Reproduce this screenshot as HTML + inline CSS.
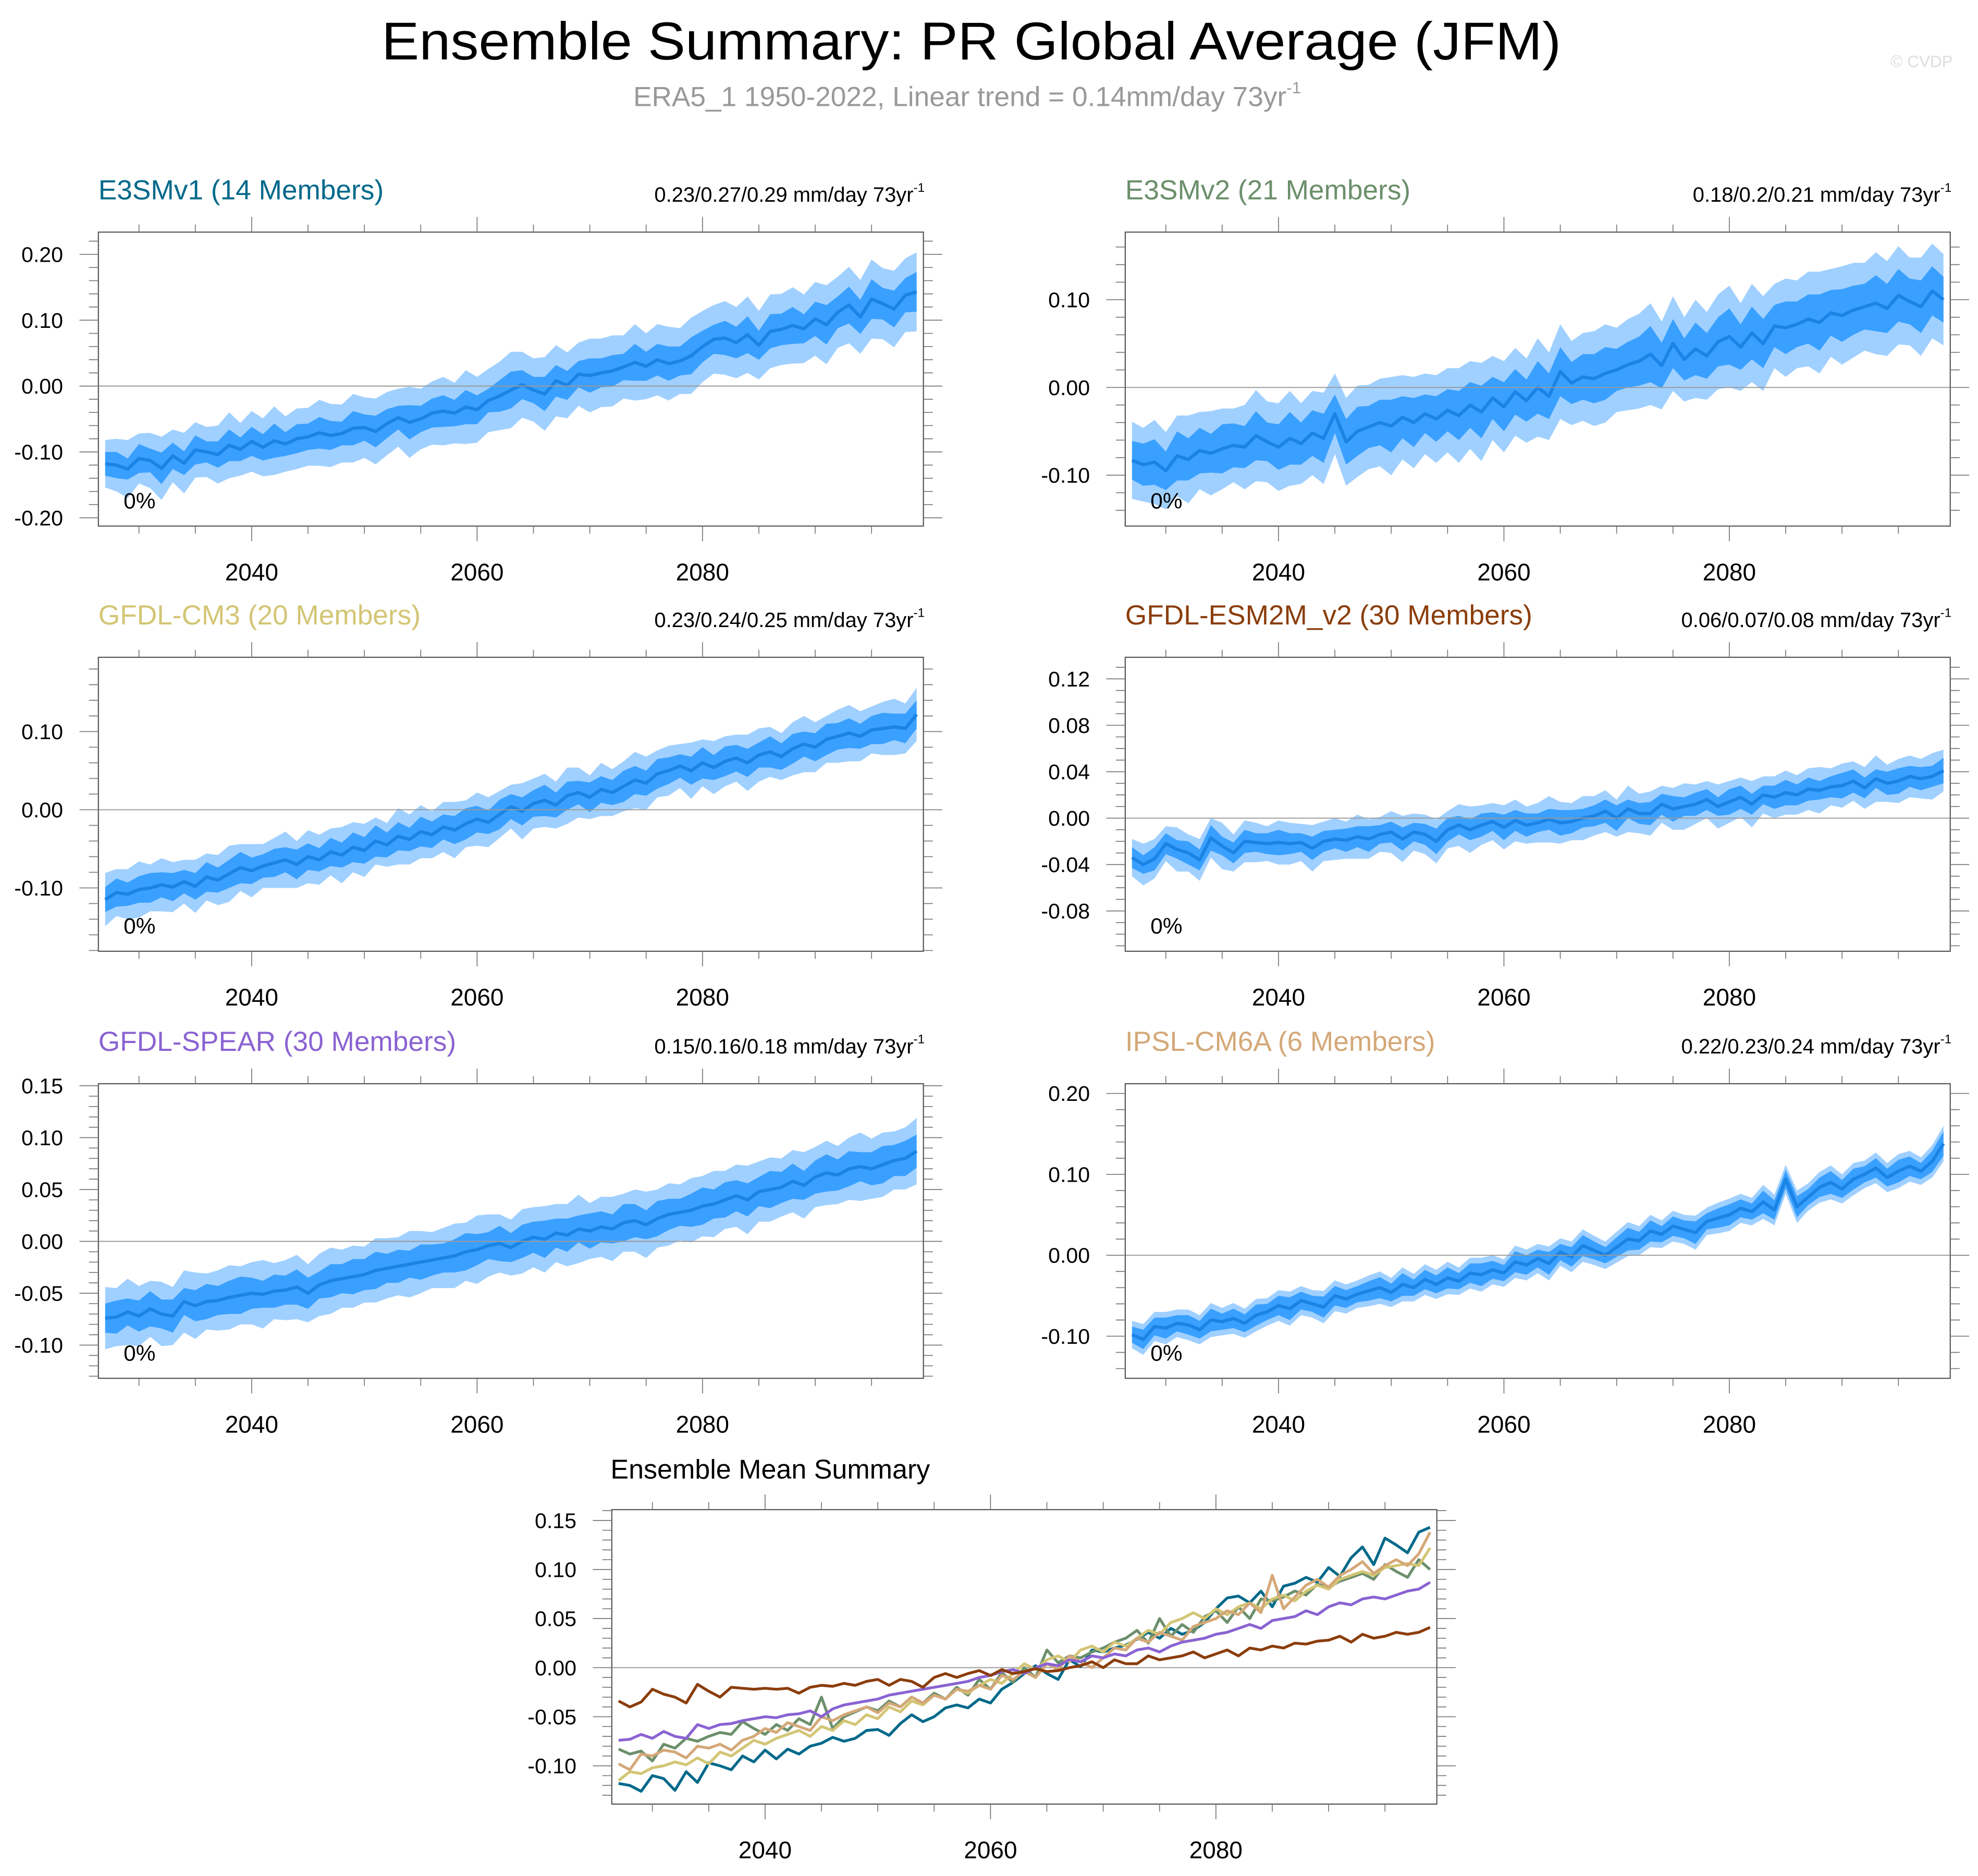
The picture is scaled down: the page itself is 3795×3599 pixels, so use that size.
<!DOCTYPE html>
<html><head><meta charset="utf-8"><title>Ensemble Summary: PR Global Average (JFM)</title>
<style>html,body{margin:0;padding:0;background:#fff}svg{display:block}</style></head>
<body>
<svg id="fig" xmlns="http://www.w3.org/2000/svg" width="3795" height="3599" viewBox="0 0 1568 1487" preserveAspectRatio="none" font-family="'Liberation Sans', Arial, sans-serif">
<rect x="0" y="0" width="1568" height="1487" fill="#fff"/>
<text x="770" y="47" font-size="42" text-anchor="middle" textLength="935" lengthAdjust="spacingAndGlyphs">Ensemble Summary: PR Global Average (JFM)</text>
<text x="502" y="84" font-size="22" fill="#999">ERA5_1 1950-2022, Linear trend = 0.14mm/day 73yr<tspan font-size="13" dy="-10">-1</tspan></text>
<text x="1548" y="53" font-size="13" fill="#ddd" text-anchor="end">© CVDP</text>
<g id="panels"></g>
</svg>
<script>
// ---- data (mm/day anomalies), years 2027..2099 ----
const years = [];
for (let y = 2027; y <= 2099; y++) years.push(y);
const modelNames = ["E3SMv1 (14 Members)","E3SMv2 (21 Members)","GFDL-CM3 (20 Members)","GFDL-ESM2M_v2 (30 Members)","GFDL-SPEAR (30 Members)","IPSL-CM6A (6 Members)"];
const trendLabels = ["0.23/0.27/0.29 mm/day 73yr","0.18/0.2/0.21 mm/day 73yr","0.23/0.24/0.25 mm/day 73yr","0.06/0.07/0.08 mm/day 73yr","0.15/0.16/0.18 mm/day 73yr","0.22/0.23/0.24 mm/day 73yr"];
const modelColors = ["#00698a","#6b8f6b","#d3c574","#8b3d0b","#8a63d2","#d4a878"];

const mean_e3smv1 = [-0.118,-0.120,-0.126,-0.110,-0.113,-0.125,-0.106,-0.117,-0.097,-0.100,
-0.104,-0.090,-0.096,-0.084,-0.093,-0.083,-0.088,-0.080,-0.077,-0.071,
-0.075,-0.072,-0.064,-0.063,-0.069,-0.057,-0.048,-0.055,-0.050,-0.041,
-0.038,-0.041,-0.032,-0.036,-0.022,-0.015,-0.006,0.002,-0.006,-0.012,
0.008,0.001,0.018,0.016,0.020,0.023,0.029,0.036,0.030,0.040,
0.034,0.038,0.046,0.060,0.071,0.073,0.066,0.078,0.062,0.083,
0.086,0.092,0.087,0.102,0.093,0.112,0.123,0.105,0.132,0.125,
0.117,0.138,0.143];
const mean_e3smv2 = [-0.083,-0.088,-0.085,-0.095,-0.078,-0.082,-0.072,-0.075,-0.070,-0.066,
-0.068,-0.055,-0.062,-0.068,-0.058,-0.064,-0.052,-0.058,-0.030,-0.062,
-0.050,-0.045,-0.040,-0.044,-0.034,-0.040,-0.030,-0.036,-0.026,-0.032,
-0.020,-0.028,-0.012,-0.022,-0.005,-0.015,0.000,-0.010,0.018,0.005,
0.012,0.010,0.016,0.020,0.026,0.030,0.038,0.025,0.050,0.032,
0.044,0.036,0.052,0.058,0.046,0.062,0.050,0.070,0.068,0.072,
0.078,0.074,0.085,0.082,0.088,0.092,0.096,0.090,0.105,0.098,
0.092,0.110,0.100];
const mean_cm3 = [-0.115,-0.106,-0.108,-0.102,-0.100,-0.096,-0.099,-0.092,-0.098,-0.086,
-0.090,-0.082,-0.074,-0.078,-0.072,-0.068,-0.064,-0.070,-0.060,-0.064,
-0.054,-0.058,-0.048,-0.052,-0.040,-0.045,-0.034,-0.038,-0.028,-0.032,
-0.022,-0.026,-0.018,-0.012,-0.016,-0.006,0.004,-0.002,0.008,0.012,
0.006,0.018,0.022,0.016,0.026,0.022,0.030,0.038,0.034,0.046,
0.050,0.056,0.050,0.060,0.054,0.062,0.066,0.060,0.070,0.074,
0.068,0.078,0.084,0.080,0.090,0.094,0.098,0.094,0.102,0.104,
0.106,0.104,0.122];
const mean_esm2m = [-0.034,-0.040,-0.035,-0.022,-0.027,-0.030,-0.036,-0.017,-0.024,-0.030,
-0.020,-0.021,-0.022,-0.021,-0.022,-0.021,-0.026,-0.020,-0.018,-0.019,
-0.016,-0.018,-0.014,-0.012,-0.018,-0.012,-0.014,-0.020,-0.010,-0.006,
-0.010,-0.006,-0.003,-0.008,-0.002,-0.006,-0.004,-0.001,-0.004,-0.003,
0.000,0.002,0.006,0.000,0.008,0.004,0.004,0.012,0.008,0.010,
0.012,0.016,0.010,0.014,0.018,0.012,0.020,0.018,0.022,0.020,
0.025,0.024,0.027,0.028,0.032,0.026,0.034,0.030,0.032,0.036,
0.034,0.036,0.041];
const mean_spear = [-0.074,-0.073,-0.068,-0.072,-0.065,-0.070,-0.072,-0.058,-0.062,-0.058,
-0.057,-0.054,-0.052,-0.050,-0.051,-0.048,-0.047,-0.044,-0.050,-0.042,
-0.038,-0.036,-0.034,-0.032,-0.028,-0.026,-0.024,-0.022,-0.020,-0.018,
-0.016,-0.014,-0.010,-0.008,-0.004,-0.002,-0.006,0.000,0.004,0.002,
0.008,0.006,0.012,0.010,0.014,0.012,0.018,0.020,0.016,0.022,
0.026,0.028,0.030,0.034,0.036,0.040,0.044,0.040,0.048,0.050,
0.052,0.058,0.054,0.062,0.066,0.064,0.070,0.072,0.070,0.074,
0.078,0.080,0.087];
const mean_ipsl = [-0.098,-0.104,-0.088,-0.090,-0.084,-0.086,-0.092,-0.080,-0.082,-0.078,
-0.084,-0.074,-0.070,-0.062,-0.066,-0.056,-0.060,-0.064,-0.050,-0.054,
-0.048,-0.044,-0.040,-0.046,-0.036,-0.040,-0.030,-0.036,-0.028,-0.032,
-0.022,-0.024,-0.018,-0.022,-0.008,-0.012,-0.004,-0.010,0.004,-0.002,
0.012,0.006,0.000,0.010,0.020,0.018,0.030,0.026,0.036,0.032,
0.028,0.042,0.046,0.050,0.058,0.054,0.066,0.056,0.094,0.060,
0.072,0.084,0.090,0.082,0.094,0.100,0.108,0.096,0.104,0.110,
0.104,0.116,0.138];

// band half-widths (thousandths of mm/day)
const inner_e3smv1 = [18,20,16,22,18,24,20,18,22,16,20,24,18,22,20,26,18,22,20,24,22,18,26,20,24,22,18,26,20,22,24,20,26,22,18,24,28,22,20,26,24,22,20,26,22,24,20,28,22,24,26,22,28,24,22,26,24,28,22,26,24,28,22,26,30,24,28,26,30,24,28,26,30];
const outer_e3smv1 = [36,40,44,38,42,48,40,46,42,38,44,50,40,46,44,52,42,46,44,50,48,44,52,46,50,48,44,54,46,48,52,46,56,50,48,52,58,50,48,56,54,50,48,56,52,54,48,58,50,54,56,50,58,54,52,56,54,58,52,56,54,58,52,56,60,54,58,56,60,54,58,56,60];
const inner_e3smv2 = [22,24,26,22,28,24,26,22,28,25,24,28,22,26,30,24,26,28,22,26,28,24,26,30,24,28,22,26,24,28,26,30,24,28,26,24,30,26,28,24,26,28,30,24,26,28,32,26,28,24,30,26,28,32,26,30,28,24,30,26,28,32,26,30,28,26,32,28,30,26,30,28,26];
const outer_e3smv2 = [44,42,48,44,46,50,44,48,46,42,48,52,46,50,54,46,48,52,46,50,52,48,50,56,48,52,46,50,48,54,50,56,48,52,50,48,56,50,54,48,50,54,56,48,52,54,58,50,54,48,56,50,54,58,50,56,54,48,56,50,54,58,50,56,54,50,58,54,56,50,56,54,52];
const inner_cm3 = [16,18,15,17,19,16,18,15,17,19,16,18,20,17,15,18,16,19,17,15,18,16,19,17,20,16,18,15,19,17,16,18,20,17,15,19,16,18,17,20,16,18,15,19,17,16,20,18,16,19,17,15,18,20,16,19,17,18,16,20,17,19,16,18,20,17,19,16,18,20,17,19,18];
const outer_cm3 = [34,30,32,36,30,34,32,28,34,30,32,36,30,34,28,32,36,30,34,32,30,36,32,34,30,28,36,32,34,30,32,36,30,34,32,30,28,36,32,34,30,36,32,28,34,30,32,36,34,30,32,28,36,30,34,32,30,36,34,32,30,34,36,32,30,34,36,32,30,34,36,32,34];
const inner_esm2m = [9,8,10,9,8,10,9,11,8,9,10,8,9,11,9,8,10,9,8,10,9,11,8,9,10,8,9,11,10,8,9,10,8,11,9,10,8,9,11,10,8,9,10,11,8,9,10,9,11,8,10,9,8,11,10,9,8,10,11,9,10,8,9,11,10,9,8,10,11,9,10,9,11];
const outer_esm2m = [16,18,17,15,19,16,18,17,20,16,18,17,15,19,18,16,20,17,18,16,19,17,15,18,20,16,17,19,16,18,20,17,16,19,18,16,17,20,18,16,19,17,18,16,20,17,19,16,18,20,17,16,19,18,17,20,16,18,19,17,18,20,16,19,17,18,20,16,19,18,17,20,18];
const inner_spear = [14,16,13,15,17,14,16,13,15,17,14,16,18,15,13,16,14,17,15,13,16,14,17,15,18,14,16,13,17,15,14,16,18,15,13,17,14,16,15,18,14,16,13,17,15,14,18,16,14,17,15,13,16,18,14,17,15,16,14,18,15,17,14,16,18,15,17,14,16,18,15,17,16];
const outer_spear = [30,28,32,29,27,31,28,30,32,27,29,31,28,30,33,27,29,31,28,30,32,28,30,27,31,29,28,32,30,27,29,31,28,33,30,28,27,31,29,32,28,30,33,27,29,31,28,30,32,28,30,27,31,29,32,28,30,33,29,31,28,30,32,29,31,28,30,33,29,31,28,30,32];
const inner_ipsl = [10,12,11,13,10,12,11,14,10,12,11,13,10,12,14,11,10,13,12,11,10,12,13,11,14,10,12,11,13,10,12,14,11,10,13,12,11,14,10,12,13,11,10,12,14,11,13,10,12,11,14,10,12,13,11,10,14,12,11,13,10,12,14,11,13,10,12,11,14,12,10,13,15];
const outer_ipsl = [17,19,18,20,17,19,18,21,17,19,18,20,17,19,21,18,17,20,19,18,17,19,20,18,21,17,19,18,20,17,19,21,18,17,20,19,18,21,17,19,20,18,17,19,21,18,20,17,19,18,21,17,19,20,18,17,21,19,18,20,17,19,21,18,20,17,19,18,21,19,17,20,22];

const means = [mean_e3smv1, mean_e3smv2, mean_cm3, mean_esm2m, mean_spear, mean_ipsl];
const inners = [inner_e3smv1, inner_e3smv2, inner_cm3, inner_esm2m, inner_spear, inner_ipsl];
const outers = [outer_e3smv1, outer_e3smv2, outer_cm3, outer_esm2m, outer_spear, outer_ipsl];

// y-axis ranges per panel
const yMins = [-0.2126, -0.158, -0.181, -0.1147, -0.132, -0.152, -0.139];
const yMaxs = [0.2337, 0.177, 0.195, 0.1386, 0.152, 0.212, 0.161];
const yMajor = [0.1, 0.1, 0.1, 0.04, 0.05, 0.1, 0.05];
const yMinor = [0.02, 0.02, 0.02, 0.01, 0.01, 0.02, 0.01];
const xMajorTicks = [2040, 2060, 2080];

// ---- layout ----
const NS = "http://www.w3.org/2000/svg";
const root = document.getElementById("panels");
const boxes = [
  {x0:78, x1:732, y0:184, y1:417},
  {x0:892, x1:1546, y0:184, y1:417},
  {x0:78, x1:732, y0:521, y1:754},
  {x0:892, x1:1546, y0:521, y1:754},
  {x0:78, x1:732, y0:859, y1:1092.5},
  {x0:892, x1:1546, y0:859, y1:1092.5},
  {x0:485, x1:1139, y0:1196.6, y1:1430}
];
const X_LO = 2026.4, X_HI = 2099.6;
function mk(tag, attrs, parent) {
  const e = document.createElementNS(NS, tag);
  for (const k in attrs) e.setAttribute(k, attrs[k]);
  (parent || root).appendChild(e);
  return e;
}
function xs(b, yr) { return b.x0 + (yr - X_LO) / (X_HI - X_LO) * (b.x1 - b.x0); }
function ysF(b, p) { return v => b.y1 - (v - yMins[p]) / (yMaxs[p] - yMins[p]) * (b.y1 - b.y0); }
function fmt(v) { return Math.abs(v) < 1e-9 ? "0.00" : v.toFixed(2); }

function drawAxes(p, g) {
  const b = boxes[p], ys = ysF(b, p);
  const zl = mk("line", {x1:b.x0, x2:b.x1, y1:ys(0), y2:ys(0), stroke:"#999", "stroke-width":0.8}, g);
  
  
  const bx = mk("rect", {x:b.x0, y:b.y0, width:b.x1-b.x0, height:b.y1-b.y0, fill:"none", stroke:"#555", "stroke-width":0.9}, g);
  
  
  for (let yr = 2030; yr <= 2095; yr += 5) {
    const major = xMajorTicks.includes(yr);
    const L = major ? 12 : 6, x = xs(b, yr);
    mk("line", {x1:x, x2:x, y1:b.y0, y2:b.y0-L, stroke:"#777", "stroke-width":0.7}, g);
    mk("line", {x1:x, x2:x, y1:b.y1, y2:b.y1+L, stroke:"#777", "stroke-width":0.7}, g);
    if (major) {
      const t = mk("text", {x:x, y:b.y1+43, "font-size":19, "text-anchor":"middle"}, g);
      t.textContent = yr;
      
      
    }
  }
  const mn = yMinor[p], mj = yMajor[p];
  const kStart = Math.ceil(yMins[p] / mn - 1e-6), kEnd = Math.floor(yMaxs[p] / mn + 1e-6);
  for (let k = kStart; k <= kEnd; k++) {
    const v = k * mn;
    const major = Math.abs(v / mj - Math.round(v / mj)) < 1e-6;
    const L = major ? 15 : 7.5, y = ys(v);
    mk("line", {x1:b.x0, x2:b.x0-L, y1:y, y2:y, stroke:"#777", "stroke-width":0.7}, g);
    mk("line", {x1:b.x1, x2:b.x1+L, y1:y, y2:y, stroke:"#777", "stroke-width":0.7}, g);
    if (major) {
      const t = mk("text", {x:b.x0-28, y:y+6, "font-size":17, "text-anchor":"end"}, g);
      t.textContent = fmt(v);
      
      
    }
  }
}

function poly(b, ys, lo, hi) {
  let pts = [];
  for (let i = 0; i < years.length; i++) pts.push(xs(b, years[i]).toFixed(2) + "," + ys(hi[i]).toFixed(2));
  for (let i = years.length - 1; i >= 0; i--) pts.push(xs(b, years[i]).toFixed(2) + "," + ys(lo[i]).toFixed(2));
  return pts.join(" ");
}
function linePts(b, ys, arr) {
  return years.map((yr, i) => xs(b, yr).toFixed(2) + "," + ys(arr[i]).toFixed(2)).join(" ");
}

for (let p = 0; p < 6; p++) {
  const b = boxes[p], ys = ysF(b, p);
  const g = mk("g", {});
  
  
  const m = means[p], inn = inners[p], out = outers[p];
  const oLo = m.map((v, i) => v - (out[i] ?? 20) / 1000), oHi = m.map((v, i) => v + (out[i] ?? 20) / 1000);
  const iLo = m.map((v, i) => v - (inn[i] ?? 10) / 1000), iHi = m.map((v, i) => v + (inn[i] ?? 10) / 1000);
  const ob = mk("polygon", {points:poly(b, ys, oLo, oHi), fill:"#a0d0ff"}, g);
  
  
  const ib = mk("polygon", {points:poly(b, ys, iLo, iHi), fill:"#3aa0ff"}, g);
  
  
  const ml = mk("polyline", {points:linePts(b, ys, m), fill:"none", stroke:"#1a84e6", "stroke-width":2.6, "stroke-linejoin":"round"}, g);
  
  
  drawAxes(p, g);
  const tt = mk("text", {x:b.x0, y:b.y0-26, "font-size":22, fill:modelColors[p]}, g);
  tt.textContent = modelNames[p];
  
  
  const tr = mk("text", {x:b.x1+1, y:b.y0-24, "font-size":16.5, "text-anchor":"end"}, g);
  tr.textContent = trendLabels[p];
  const sup = mk("tspan", {"font-size":10, dy:-8}, tr);
  sup.textContent = "-1";
  
  
  const pc = mk("text", {x:b.x0+20, y:b.y1-14, "font-size":17.5}, g);
  pc.textContent = "0%";
  
  
}

{
  const p = 6, b = boxes[p], ys = ysF(b, p);
  const g = mk("g", {});
  
  
  drawAxes(p, g);
  const order = [0, 1, 2, 5, 4, 3];
  for (const k of order) {
    const l = mk("polyline", {points:linePts(b, ys, means[k]), fill:"none", stroke:modelColors[k], "stroke-width":2.2, "stroke-linejoin":"round"}, g);
    
    
  }
  const t = mk("text", {x:b.x0 - 1, y:1172, "font-size":21.5}, g);
  t.textContent = "Ensemble Mean Summary";
  
  
}
</script>
</body></html>
